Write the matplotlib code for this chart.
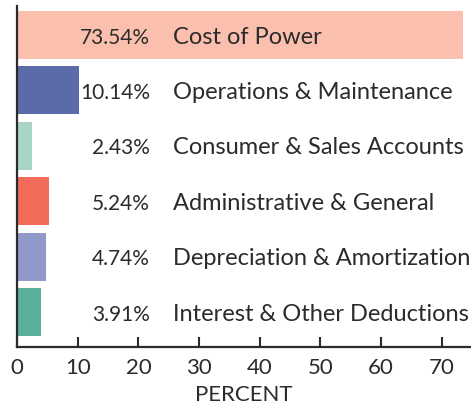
import matplotlib
matplotlib.use("Agg")
import matplotlib.pyplot as plt

categories = ["Cost of Power", "Operations & Maintenance", "Consumer & Sales Accounts",
              "Administrative & General", "Depreciation & Amortization",
              "Interest & Other Deductions"]
percents = [73.54, 10.14, 2.43, 5.24, 4.74, 3.91]
colors = ["#fbbfad", "#5b6baa", "#a8d5c8", "#f26b5b", "#9199ca", "#5aaf9a"]
xticks = [0, 10, 20, 30, 40, 50, 60, 70]

plt.rcParams['font.family'] = ['Lato', 'DejaVu Sans']
text_color = "#2b2b2b"

fig = plt.figure(figsize=(4.71, 4.12), dpi=100)
ax = fig.add_axes([17 / 471, 65 / 412, 1 - 17 / 471, 341 / 412])

ypos = list(range(len(categories)))
ax.barh(ypos, percents, height=0.87, color=colors)

for y, p, c in zip(ypos, percents, categories):
    ax.text(21.9, y + 0.05, f"{p:.2f}%", ha="right", va="center", fontsize=15,
            color=text_color)
    ax.text(25.7, y + 0.04, c, ha="left", va="center", fontsize=17,
            color=text_color)

ax.set_xlim(0, 74.8)
ax.set_ylim(5.63, -0.52)
ax.set_xticks(xticks)
ax.set_yticks([])
ax.tick_params(axis="x", direction="in", length=7, width=1.5, labelsize=16,
               labelcolor=text_color, color=text_color, pad=8)
for s in ["top", "right"]:
    ax.spines[s].set_visible(False)
for s in ["left", "bottom"]:
    ax.spines[s].set_linewidth(1.6)
    ax.spines[s].set_color(text_color)
ax.set_xlabel("PERCENT", fontsize=16, color=text_color, labelpad=5)

fig.savefig("out.png", dpi=100)
